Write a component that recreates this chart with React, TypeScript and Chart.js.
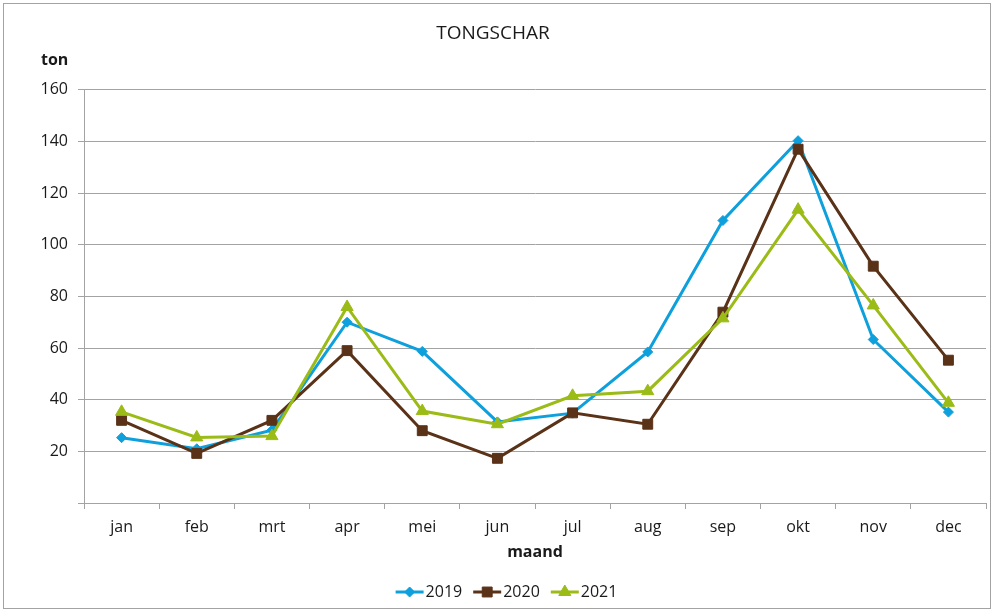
import React, { useEffect, useRef } from "react";
import { Chart, registerables } from "chart.js";

Chart.register(...registerables);

const months = ["jan", "feb", "mrt", "apr", "mei", "jun", "jul", "aug", "sep", "okt", "nov", "dec"];
const values2019 = [25.3, 21, 28.2, 70, 58.7, 31.4, 34.8, 58.5, 109.4, 140.3, 63.3, 35.2];
const values2020 = [32, 19.2, 32, 59, 28, 17.3, 34.9, 30.5, 73.9, 137, 91.7, 55.3];
const values2021 = [35.3, 25.4, 25.9, 75.9, 35.6, 30.5, 41.5, 43.3, 71.5, 113.6, 76.5, 38.8];
const seriesLabels = ["2019", "2020", "2021"];
const yTicks = [0, 20, 40, 60, 80, 100, 120, 140, 160];

const FONT = "'Open Sans', 'Noto Sans', sans-serif";
const GRID = "#a3a3a3";
const TEXT = "#1a1a1a";
const COLORS = ["#0ea0dc", "#5a3217", "#9bbb17"];
const STYLES = ["rectRot", "rect", "triangle"];
const RADII = [5, 7, 7];

function drawMarker(ctx: CanvasRenderingContext2D, style: string, r: number, cx: number, cy: number) {
  ctx.beginPath();
  if (style === "rectRot") {
    ctx.moveTo(cx, cy - r);
    ctx.lineTo(cx + r, cy);
    ctx.lineTo(cx, cy + r);
    ctx.lineTo(cx - r, cy);
  } else if (style === "rect") {
    const s = r * Math.SQRT1_2;
    ctx.rect(cx - s, cy - s, 2 * s, 2 * s);
  } else {
    ctx.moveTo(cx, cy - r);
    ctx.lineTo(cx + r * 0.866, cy + r * 0.5);
    ctx.lineTo(cx - r * 0.866, cy + r * 0.5);
  }
  ctx.closePath();
  ctx.fill();
  ctx.stroke();
}

const framePlugin = {
  id: "frame",
  beforeDraw(chart: any) {
    const { ctx, width, height } = chart;
    ctx.save();
    ctx.fillStyle = "#ffffff";
    ctx.fillRect(0, 0, width, height);
    ctx.strokeStyle = GRID;
    ctx.lineWidth = 1;
    ctx.strokeRect(3.5, 3.5, width - 8, height - 7);
    ctx.restore();
  },
  afterDraw(chart: any) {
    const { ctx, chartArea, width } = chart;
    ctx.save();
    // y-axis unit label
    ctx.font = `bold 16px ${FONT}`;
    ctx.fillStyle = TEXT;
    ctx.textAlign = "left";
    ctx.textBaseline = "middle";
    ctx.fillText("ton", chartArea.left - 43, chartArea.top - 29);

    // legend: line with marker + label
    ctx.font = `16px ${FONT}`;
    const lineW = 28;
    const gap = 2;
    const itemGap = 11;
    const widths = seriesLabels.map((l) => ctx.measureText(l).width);
    const total = widths.reduce((a, w) => a + lineW + gap + w, 0) + itemGap * (seriesLabels.length - 1);
    let x = width / 2 + 9 - total / 2;
    const y = 592;
    seriesLabels.forEach((label, i) => {
      ctx.strokeStyle = COLORS[i];
      ctx.lineWidth = 3;
      ctx.beginPath();
      ctx.moveTo(x, y);
      ctx.lineTo(x + lineW, y);
      ctx.stroke();
      ctx.fillStyle = COLORS[i];
      ctx.strokeStyle = COLORS[i];
      ctx.lineWidth = 1;
      drawMarker(ctx, STYLES[i], RADII[i], x + lineW / 2, y);
      ctx.fillStyle = TEXT;
      ctx.textAlign = "left";
      ctx.textBaseline = "middle";
      ctx.fillText(label, x + lineW + gap, y);
      x += lineW + gap + widths[i] + itemGap;
    });
    ctx.restore();
  },
};

export default function App() {
  const ref = useRef<HTMLCanvasElement | null>(null);

  useEffect(() => {
    if (!ref.current) return;
    const data = [values2019, values2020, values2021];
    const chart = new Chart(ref.current, {
      type: "line",
      data: {
        labels: months,
        datasets: data.map((vals, i) => ({
          label: seriesLabels[i],
          data: vals,
          borderColor: COLORS[i],
          backgroundColor: COLORS[i],
          borderWidth: 3,
          tension: 0,
          pointStyle: STYLES[i] as any,
          pointRadius: RADII[i],
          pointBackgroundColor: COLORS[i],
          pointBorderColor: COLORS[i],
          pointBorderWidth: 1,
          order: 3 - i,
        })),
      },
      options: {
        responsive: false,
        animation: false,
        devicePixelRatio: 1,
        layout: { padding: { left: 0, right: 9, top: 0, bottom: 38 } },
        plugins: {
          legend: { display: false },
          tooltip: { enabled: false },
          title: {
            display: true,
            text: "TONGSCHAR",
            color: TEXT,
            font: { family: FONT, size: 19, weight: "normal" },
            padding: { top: 22, bottom: 45 },
          },
        },
        scales: {
          x: {
            offset: true,
            grid: {
              offset: true,
              drawOnChartArea: false,
              drawTicks: true,
              tickLength: 6,
              color: GRID,
            },
            border: { color: GRID },
            ticks: { color: TEXT, font: { family: FONT, size: 16 }, padding: 9 },
            title: {
              display: true,
              text: "maand",
              color: TEXT,
              font: { family: FONT, size: 16, weight: "bold" },
              padding: { top: 0, bottom: 12 },
            },
            afterFit: (s: any) => {
              s.height = 71;
            },
          },
          y: {
            min: yTicks[0],
            max: yTicks[yTicks.length - 1],
            afterBuildTicks: (s: any) => {
              s.ticks = yTicks.map((v) => ({ value: v }));
            },
            grid: { color: GRID, tickLength: 6 },
            border: { color: GRID },
            ticks: {
              color: TEXT,
              font: { family: FONT, size: 16 },
              padding: 10,
              callback: (v: any) => (v === 0 ? "" : String(v)),
            },
            afterFit: (s: any) => {
              s.width = 84;
            },
          },
        },
      },
      plugins: [framePlugin],
    });
    return () => chart.destroy();
  }, []);

  return (
    <div style={{ position: "absolute", left: 0, top: 0, width: 995, height: 612 }}>
      <canvas ref={ref} width={995} height={612} style={{ display: "block" }} />
    </div>
  );
}
